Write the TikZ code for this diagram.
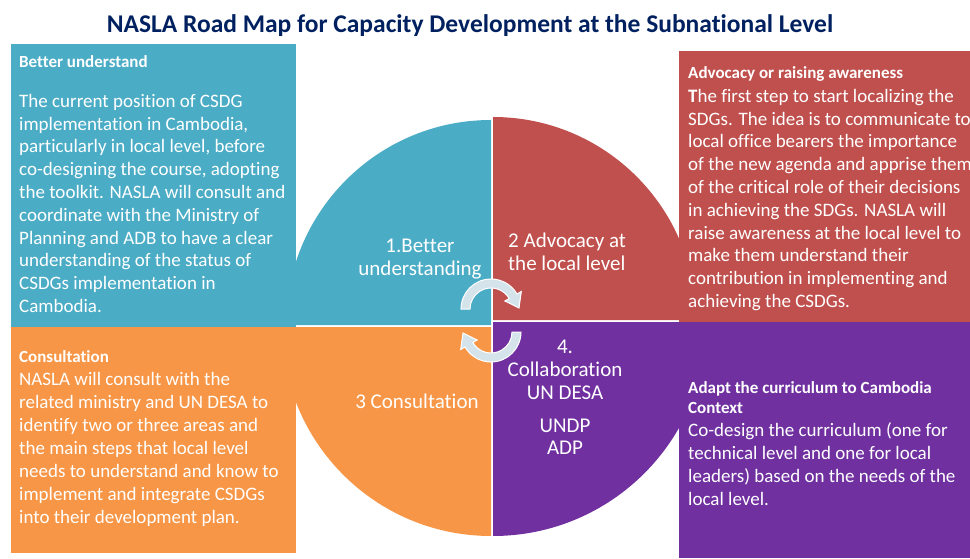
\documentclass[tikz,border=0pt]{standalone}
\usepackage{fontspec}
\setmainfont{Carlito}[Ligatures=NoCommon]
\definecolor{bluequad}{HTML}{4BACC6}
\definecolor{redquad}{HTML}{C0504D}
\definecolor{orangequad}{HTML}{F79646}
\definecolor{purplequad}{HTML}{7030A0}
\definecolor{titlenavy}{HTML}{002060}
\definecolor{arrowfill}{HTML}{D5E4EB}
\newcommand\lnstrut{\rule{0pt}{16pt}}
\tikzset{
  boxhead/.style={anchor=north west, inner sep=0pt, align=left, text=white,
    font=\fontsize{17}{20}\selectfont\bfseries},
  boxbody/.style={anchor=north west, inner sep=0pt, align=left, text=white,
    font=\fontsize{19}{22.8}\selectfont},
  quadlabel/.style={inner sep=0pt, align=center, text=white,
    font=\fontsize{21}{23.5}\selectfont},
  cyclearrow/.style={fill=arrowfill, draw=white, line width=1pt}
}
\begin{document}
\begin{tikzpicture}[x=1pt, y=1pt]
    \useasboundingbox (0,0) rectangle (970,558);
    \clip (0,0) rectangle (970,558);
    % the four quarters of the wheel
    \fill[bluequad] (491,233) -- ++(0,205) arc[start angle=90, end angle=180, radius=205] -- cycle;
    \fill[redquad] (493,238) -- ++(203,0) arc[start angle=0, end angle=90, radius=203] -- cycle;
    \fill[orangequad] (491,231) -- ++(-209,0) arc[start angle=180, end angle=270, radius=209] -- cycle;
    \fill[purplequad] (493,236) -- ++(0,-214) arc[start angle=270, end angle=360, radius=214] -- cycle;
    % side panels
    \fill[bluequad] (11,231) rectangle (296,514);
    \fill[orangequad] (11,5) rectangle (296,231);
    \fill[redquad] (679,236) rectangle (970,507);
    \fill[purplequad] (679,0) rectangle (970,236);
    % cycle arrows
    \begin{scope}[shift={(491,249)}]
      \filldraw[cyclearrow] (180:30) arc[start angle=180, end angle=30, radius=30]
        -- (30:35) -- (28,1) -- (30:16) -- (30:21)
        arc[start angle=30, end angle=180, radius=21] -- cycle;
    \end{scope}
    \begin{scope}[shift={(491,226)}]
      \filldraw[cyclearrow] (0:30) arc[start angle=0, end angle=-150, radius=30]
        -- (210:35) -- (-28,-1) -- (210:16) -- (210:21)
        arc[start angle=-150, end angle=0, radius=21] -- cycle;
    \end{scope}
    % title
    \node[anchor=base, inner sep=0pt, text=titlenavy, font=\fontsize{25.5}{30}\selectfont\bfseries]
      (title) at (470,525) {NASLA Road Map for Capacity Development at the Subnational Level};
    % panel texts
    \node[boxhead] (betterhead) at (19,507) {\lnstrut Better understand};
    \node[boxbody] (betterbody) at (19,467) {\lnstrut The current position of CSDG\\
      implementation in Cambodia,\\ particularly in local level, before\\
      co-designing the course, adopting\\ the toolkit. NASLA will consult and\\
      coordinate with the Ministry of\\ Planning and ADB to have a clear\\
      understanding of the status of\\ CSDGs implementation in\\ Cambodia.};
    \node[boxhead] (advocacyhead) at (688,496) {\lnstrut Advocacy or raising awareness};
    \node[boxbody] (advocacybody) at (688,472) {\lnstrut\textbf{T}he first step to start localizing the\\
      SDGs. The idea is to communicate to\\ local office bearers the importance\\
      of the new agenda and apprise them\\ of the critical role of their decisions\\
      in achieving the SDGs. NASLA will\\ raise awareness at the local level to\\
      make them understand their\\ contribution in implementing and\\
      achieving the CSDGs.};
    \node[boxhead] (consulthead) at (19,212) {\lnstrut Consultation};
    \node[boxbody, font=\fontsize{19}{23}\selectfont] (consultbody) at (19,189) {\lnstrut NASLA will consult with the\\
      related ministry and UN DESA to\\ identify two or three areas and\\
      the main steps that local level\\ needs to understand and know to\\
      implement and integrate CSDGs\\ into their development plan.};
    \node[boxhead] (adapthead) at (688,181) {\lnstrut Adapt the curriculum to Cambodia\\ Context};
    \node[boxbody, font=\fontsize{19}{23}\selectfont] (adaptbody) at (688,138) {\lnstrut Co-design the curriculum (one for\\
      technical level and one for local\\ leaders) based on the needs of the\\ local level.};
    % wheel labels
    \node[quadlabel, anchor=north] (step1) at (420,322) {\lnstrut 1.Better\\ understanding};
    \node[quadlabel, anchor=north west, align=left] (step2) at (508,327) {\lnstrut 2 Advocacy at\\ the local level};
    \node[quadlabel, anchor=base] (step3) at (417,150) {3 Consultation};
    \node[quadlabel, anchor=north, font=\fontsize{21}{23}\selectfont] (step4) at (565,221) {\lnstrut 4.\\ Collaboration\\ UN DESA};
    \node[quadlabel, anchor=north, font=\fontsize{21}{22}\selectfont] (partners) at (565,142) {\lnstrut UNDP\\ ADP};
\end{tikzpicture}
\end{document}
